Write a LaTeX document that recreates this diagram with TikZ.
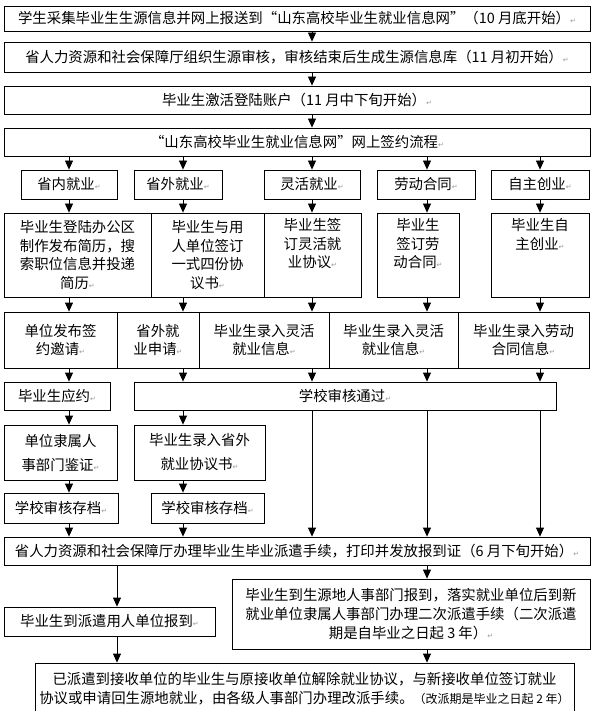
\documentclass[tikz,border=0pt]{standalone}
\usepackage{fontspec}
\setmainfont{Noto Sans CJK SC}
\newfontfamily\symfont{DejaVu Sans}
\usetikzlibrary{arrows.meta}
\newcommand\retmk{{\color{black!40}\symfont\fontsize{7}{7}\selectfont ↵}}
\begin{document}
\begin{tikzpicture}[x=1pt,y=-1pt,
  box/.style={draw, line width=0.8pt, inner sep=1pt, align=center,
    font=\fontsize{14.4}{18.5}\selectfont},
  arr/.style={-{Triangle[width=8pt,length=9pt]}, line width=0.8pt}]
\useasboundingbox (0,0) rectangle (597,711);
\clip (0,0) rectangle (597,711);
% column coordinates
\coordinate (X1) at (69,0);
\coordinate (X2) at (183,0);
\coordinate (X3) at (312,0);
\coordinate (X4) at (427,0);
\coordinate (X5) at (540,0);
\coordinate (XL) at (117,0);
% top rows
\node[box, minimum width=586pt, minimum height=25pt] (b1) at (297,18.5)
  {学生采集毕业生生源信息并网上报送到“山东高校毕业生就业信息网”（10 月底开始）\retmk};
\node[box, minimum width=586pt, minimum height=30pt] (b2) at (297,57)
  {省人力资源和社会保障厅组织生源审核，审核结束后生成生源信息库（11 月初开始）\retmk};
\node[box, minimum width=586pt, minimum height=28pt] (b3) at (297,100)
  {毕业生激活登陆账户（11 月中下旬开始）\retmk};
\node[box, minimum width=586pt, minimum height=28pt] (b4) at (297,142)
  {“山东高校毕业生就业信息网”网上签约流程\retmk};
% categories
\node[box, minimum width=96pt, minimum height=29pt] (c1) at (69,184.5) {省内就业\retmk};
\node[box, minimum width=88pt, minimum height=29pt] (c2) at (178,184.5) {省外就业\retmk};
\node[box, minimum width=96pt, minimum height=29pt] (c3) at (312,184.5) {灵活就业\retmk};
\node[box, minimum width=98pt, minimum height=29pt] (c4) at (426,184.5) {劳动合同\retmk};
\node[box, minimum width=98pt, minimum height=29pt] (c5) at (540,184.5) {自主创业\retmk};
% details
\node[box, minimum width=147pt, minimum height=84pt] (d1) at (77.5,255)
  {毕业生登陆办公区\\制作发布简历，搜\\索职位信息并投递\\简历\retmk};
\node[box, minimum width=113pt, minimum height=84pt] (d2) at (207.5,255)
  {毕业生与用\\人单位签订\\一式四份协\\议书\retmk};
\node[box, minimum width=97pt, minimum height=84pt] (d3) at (312.5,255)
  {毕业生签\\订灵活就\\业协议\retmk\\\strut};
\node[box, minimum width=82pt, minimum height=84pt] (d4) at (418,255)
  {毕业生\\签订劳\\动合同\retmk\\\strut};
\node[box, minimum width=98pt, minimum height=84pt] (d5) at (540,255)
  {毕业生自\\主创业\retmk\\\strut\\\strut};
% row 3
\node[box, minimum width=113pt, minimum height=56pt] (e1) at (60.5,340)
  {单位发布签\\约邀请\retmk};
\node[box, minimum width=82pt, minimum height=56pt] (e2) at (158,340)
  {省外就\\业申请\retmk};
\node[box, minimum width=130pt, minimum height=56pt] (e3) at (264,340)
  {毕业生录入灵活\\就业信息\retmk};
\node[box, minimum width=129pt, minimum height=56pt] (e4) at (393.5,340)
  {毕业生录入灵活\\就业信息\retmk};
\node[box, minimum width=131pt, minimum height=56pt] (e5) at (523.5,340)
  {毕业生录入劳动\\合同信息\retmk};
% row 4
\node[box, minimum width=106pt, minimum height=28pt] (f1) at (57,396) {毕业生应约\retmk};
\node[box, minimum width=422pt, minimum height=28pt] (f2) at (345,396) {学校审核通过\retmk};
% row 5
\node[box, minimum width=113pt, minimum height=55pt, font=\fontsize{14.4}{24}\selectfont] (g1) at (60.5,452.5)
  {单位隶属人\\事部门鉴证\retmk};
\node[box, minimum width=131pt, minimum height=55pt, font=\fontsize{14.4}{24}\selectfont] (g2) at (199.5,452.5)
  {毕业生录入省外\\就业协议书\retmk};
% row 6
\node[box, minimum width=114pt, minimum height=30pt] (h1) at (61,508) {学校审核存档\retmk};
\node[box, minimum width=113pt, minimum height=30pt] (h2) at (207.5,508) {学校审核存档\retmk};
% row 7
\node[box, minimum width=586pt, minimum height=28pt] (i) at (297,551)
  {省人力资源和社会保障厅办理毕业生毕业派遣手续，打印并发放报到证（6 月下旬开始）\retmk};
% row 8
\node[box, minimum width=211pt, minimum height=29pt] (j1) at (109.5,621.5)
  {毕业生到派遣用人单位报到\retmk};
\node[box, minimum width=358pt, minimum height=70pt, font=\fontsize{14.4}{19}\selectfont] (j2) at (411,614)
  {毕业生到生源地人事部门报到，落实就业单位后到新\\就业单位隶属人事部门办理二次派遣手续（二次派遣\\期是自毕业之日起 3 年）\retmk};
% final
\node[box, minimum width=539pt, minimum height=51pt, font=\fontsize{14.4}{19}\selectfont] (k) at (304.5,688.5)
  {已派遣到接收单位的毕业生与原接收单位解除就业协议，与新接收单位签订就业\\协议或申请回生源地就业，由各级人事部门办理改派手续。{\fontsize{12}{19}\selectfont（改派期是毕业之日起 2 年）}};
% arrows
\draw[arr] (b1.south -| X3) -- (b2.north -| X3);
\draw[arr] (b2.south -| X3) -- (b3.north -| X3);
\draw[arr] (b3.south -| X3) -- (b4.north -| X3);
\draw[arr] (b4.south -| X1) -- (c1.north -| X1);
\draw[arr] (b4.south -| X2) -- (c2.north -| X2);
\draw[arr] (b4.south -| X3) -- (c3.north -| X3);
\draw[arr] (b4.south -| X4) -- (c4.north -| X4);
\draw[arr] (b4.south -| X5) -- (c5.north -| X5);
\draw[arr] (c1.south -| X1) -- (d1.north -| X1);
\draw[arr] (c2.south -| X2) -- (d2.north -| X2);
\draw[arr] (c3.south -| X3) -- (d3.north -| X3);
\draw[arr] (c4.south -| X4) -- (d4.north -| X4);
\draw[arr] (c5.south -| X5) -- (d5.north -| X5);
\draw[arr] (d1.south -| X1) -- (e1.north -| X1);
\draw[arr] (d2.south -| X2) -- (e2.north -| X2);
\draw[arr] (d3.south -| X3) -- (e3.north -| X3);
\draw[arr] (d4.south -| X4) -- (e4.north -| X4);
\draw[arr] (d5.south -| X5) -- (e5.north -| X5);
\draw[arr] (e1.south -| X1) -- (f1.north -| X1);
\draw[arr] (e2.south -| X2) -- (f2.north -| X2);
\draw[arr] (e3.south -| X3) -- (f2.north -| X3);
\draw[arr] (e4.south -| X4) -- (f2.north -| X4);
\draw[arr] (e5.south -| X5) -- (f2.north -| X5);
\draw[arr] (f1.south -| X1) -- (g1.north -| X1);
\draw[arr] (f2.south -| X2) -- (g2.north -| X2);
\draw[arr] (g1.south -| X1) -- (h1.north -| X1);
\draw[arr] (g2.south -| X2) -- (h2.north -| X2);
\draw[arr] (h1.south -| X1) -- (i.north -| X1);
\draw[arr] (h2.south -| X2) -- (i.north -| X2);
\draw[arr] (f2.south -| X3) -- (i.north -| X3);
\draw[arr] (f2.south -| X4) -- (i.north -| X4);
\draw[arr] (f2.south -| X5) -- (i.north -| X5);
\draw[arr] (i.south -| XL) -- (j1.north -| XL);
\draw[arr] (i.south -| X4) -- (j2.north -| X4);
\draw[arr] (j1.south -| XL) -- (k.north -| XL);
\draw[arr] (j2.south -| X4) -- (k.north -| X4);
\end{tikzpicture}
\end{document}
